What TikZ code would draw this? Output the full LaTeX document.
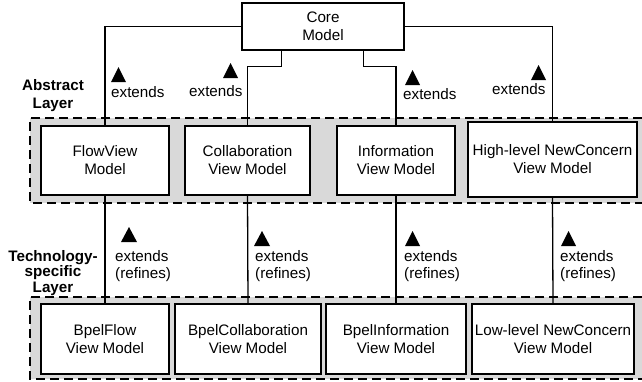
\documentclass[tikz,border=0pt]{standalone}
\usepackage{fontspec}
\setmainfont{Liberation Sans}
\definecolor{layergray}{RGB}{217,217,217}
\begin{document}
\begin{tikzpicture}[x=1pt,y=-1pt,
  model/.style={draw, line width=1.3pt, fill=white, inner sep=0pt, align=center,
                font=\fontsize{15.2pt}{18pt}\selectfont},
  layerfill/.style={fill=layergray},
  layeredge/.style={draw, line width=2pt, dash pattern=on 9pt off 5pt},
  link/.style={line width=1.3pt},
  lbl/.style={inner sep=0pt, anchor=base west, align=left,
              font=\fontsize{15.2pt}{16.5pt}\selectfont},
  layername/.style={inner sep=0pt, align=center}]
\useasboundingbox (0,0) rectangle (642,381);

% layer bands (open to the right)
\fill[layerfill] (30,118) rectangle (642,203);
\draw[layeredge] (642,118) -- (30,118) -- (30,203) -- (642,203);
\fill[layerfill] (30,297) rectangle (642,379);
\draw[layeredge] (642,297) -- (30,297) -- (30,379) -- (642,379);

% layer names (base anchor sits on the last line)
\node[layername, anchor=base, font=\bfseries\fontsize{15.2pt}{18pt}\selectfont]
  (abstract) at (53,108) {Abstract\\Layer};
\node[layername, anchor=base, font=\bfseries\fontsize{15.2pt}{15.5pt}\selectfont]
  (techspec) at (53,292) {Technology-\\specific\\Layer};

% models
\node[model, minimum width=162pt, minimum height=47pt] (core) at (323,26.5) {Core\\Model};

\node[model, minimum width=128pt, minimum height=69pt] (flow)   at (105,160.5)   {FlowView\\Model};
\node[model, minimum width=125pt, minimum height=69pt] (collab) at (247.5,160.5) {Collaboration\\View Model};
\node[model, minimum width=118pt, minimum height=69pt] (info)   at (396,160.5)   {Information\\View Model};
\node[model, minimum width=169pt, minimum height=75pt] (high)   at (552.5,159.5) {High-level NewConcern\\View Model};

\node[model, minimum width=128pt, minimum height=70pt] (bflow)   at (105,339) {BpelFlow\\View Model};
\node[model, minimum width=146pt, minimum height=70pt] (bcollab) at (248,339) {BpelCollaboration\\View Model};
\node[model, minimum width=140pt, minimum height=70pt] (binfo)   at (396,339) {BpelInformation\\View Model};
\node[model, minimum width=162pt, minimum height=70pt] (low)     at (553,339) {Low-level NewConcern\\View Model};

% extension links from the core model
\draw[link] (core.west) -| (flow.north);
\draw[link] (core.east) -| (high.north);
\draw[link] ([xshift=40pt]core.south west) -- ++(0,16) -| (collab.north);
\draw[link] ([xshift=122pt]core.south west) -- ++(0,16) -| (info.north);

% refinement links between the layers
\draw[link] (flow.south)   -- (bflow.north);
\draw[link] (collab.south) -- (bcollab.north);
\draw[link] (info.south)   -- (binfo.north);
\draw[link] (high.south)   -- (low.north);

% upper labels
\node[lbl] (ext1) at (111,97) {extends};
\fill (111,82) -- (126,82) -- (118.5,67) -- cycle;
\node[lbl] (ext2) at (189,96) {extends};
\fill (223,78) -- (238,78) -- (230.5,63) -- cycle;
\node[lbl] (ext3) at (403,99) {extends};
\fill (405,85) -- (420,85) -- (412.5,70) -- cycle;
\node[lbl] (ext4) at (492,94) {extends};
\fill (531,80) -- (546,80) -- (538.5,65) -- cycle;

% lower labels (base anchor on the second line)
\node[lbl] (ref1) at (115,278) {extends\\(refines)};
\fill (121,242) -- (137,242) -- (129,227) -- cycle;
\node[lbl] (ref2) at (255,278) {extends\\(refines)};
\fill (254,246) -- (270,246) -- (262,231) -- cycle;
\node[lbl] (ref3) at (404,278) {extends\\(refines)};
\fill (405,246) -- (420,246) -- (412.5,231) -- cycle;
\node[lbl] (ref4) at (560,278) {extends\\(refines)};
\fill (561,246) -- (576,246) -- (568.5,231) -- cycle;
\end{tikzpicture}
\end{document}
